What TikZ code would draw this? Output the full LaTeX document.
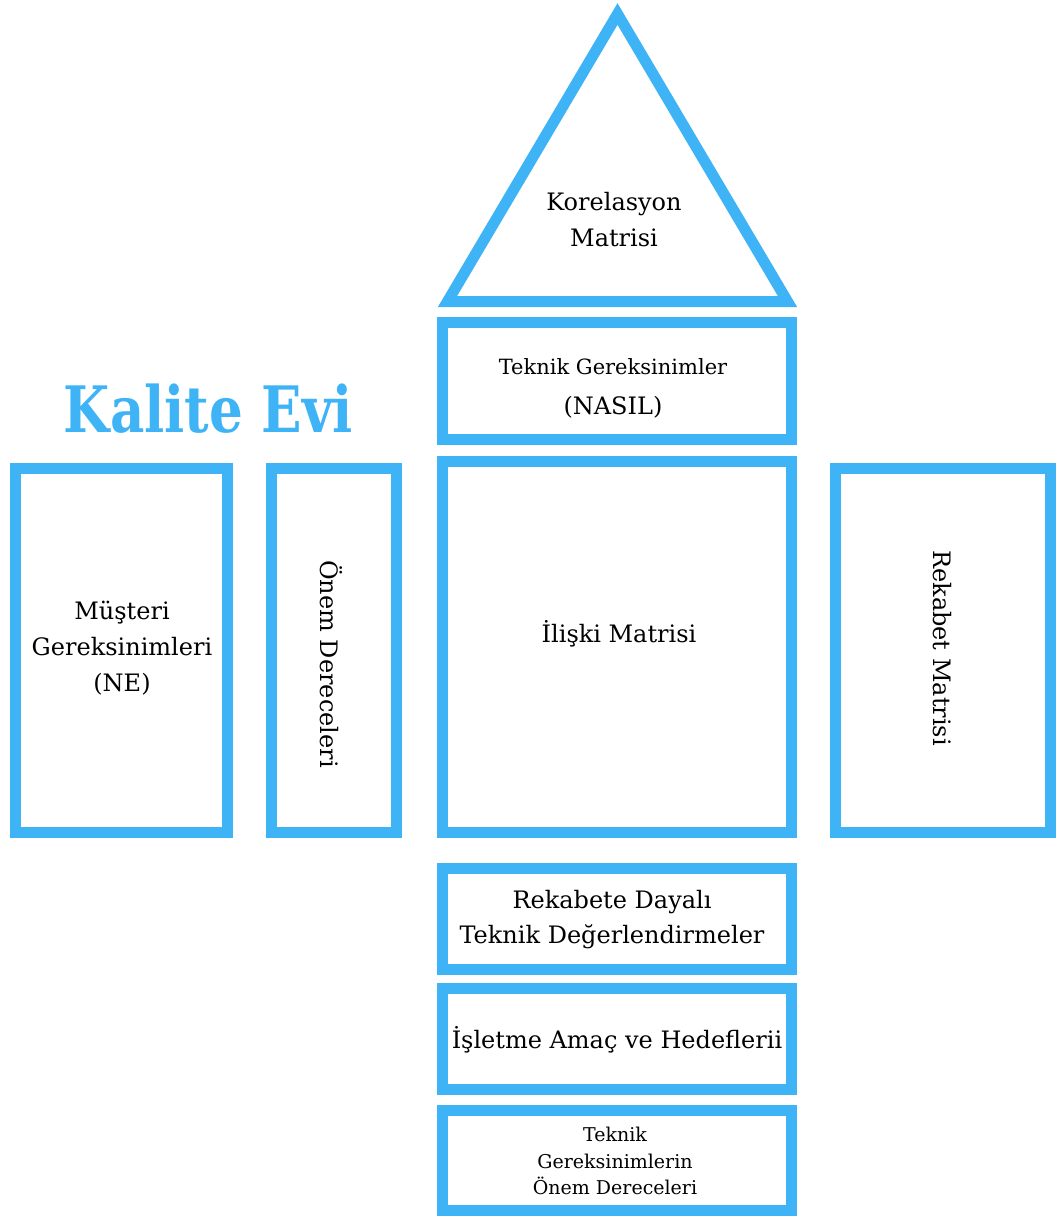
\documentclass[tikz,border=0pt]{standalone}
\usepackage{fontspec}
\setmainfont{DejaVu Serif}
\newfontfamily\titlefont{DejaVu Serif}
\definecolor{houseblue}{RGB}{62,179,245}
\begin{document}
\begin{tikzpicture}[x=1pt,y=-1pt,
  part/.style={draw=houseblue,line width=11pt,rectangle,inner sep=0pt,outer sep=0pt,fill=white},
  lbl/.style={align=center,inner sep=0pt,font=\fontsize{24}{36}\selectfont},
  small/.style={align=center,inner sep=0pt,font=\fontsize{19}{26.5}\selectfont}]
\useasboundingbox (0,0) rectangle (1056,1217);

% roof: correlation matrix
\coordinate (apex) at (617.5,14);
\coordinate (roofL) at (447.5,301.5);
\coordinate (roofR) at (787.5,301.5);
\draw[houseblue,line width=11pt,line join=miter] (apex) -- (roofL) -- (roofR) -- cycle;
\node[lbl] (korel) at (614,220) {Korelasyon\\Matrisi};

% technical requirements
\node[part,minimum width=349pt,minimum height=117pt] (nasil) at (617,381) {};
\node[align=center,inner sep=0pt,font=\fontsize{24}{40}\selectfont] (nasilT) at (613,388)
  {{\fontsize{21}{40}\selectfont Teknik Gereksinimler}\\(NASIL)};

% title
\node[anchor=base,inner sep=0pt,text=houseblue,xscale=0.83,font=\titlefont\bfseries\fontsize{64}{70}\selectfont] (title) at (208.5,432) {Kalite Evi};

% middle row
\node[part,minimum width=212pt,minimum height=364pt] (musteri) at (121.5,650.5) {};
\node[lbl] (musteriT) at (122,648) {Müşteri\\Gereksinimleri\\(NE)};

\node[part,minimum width=125pt,minimum height=364pt] (onem) at (333.5,650.5) {};
\node[lbl,rotate=-90] (onemT) at (331,664) {Önem Dereceleri};

\node[part,minimum width=349pt,minimum height=371pt] (iliski) at (617,647) {};
\node[lbl] (iliskiT) at (619,634) {İlişki Matrisi};

\node[part,minimum width=215pt,minimum height=364pt] (rekabet) at (943,650.5) {};
\node[lbl,rotate=-90] (rekabetT) at (942,648) {Rekabet Matrisi};

% foundation rows
\node[part,minimum width=349pt,minimum height=101pt] (rdt) at (617,919) {};
\node[lbl,font=\fontsize{24}{35}\selectfont] (rdtT) at (612,920) {Rekabete Dayalı\\Teknik Değerlendirmeler};

\node[part,minimum width=349pt,minimum height=101pt] (isletme) at (617,1039) {};
\node[lbl] (isletmeT) at (617,1040) {İşletme Amaç ve Hedeflerii};

\node[part,minimum width=349pt,minimum height=100pt] (tgo) at (617,1160.5) {};
\node[small] (tgoT) at (615,1161) {Teknik\\Gereksinimlerin\\Önem Dereceleri};
\end{tikzpicture}
\end{document}
